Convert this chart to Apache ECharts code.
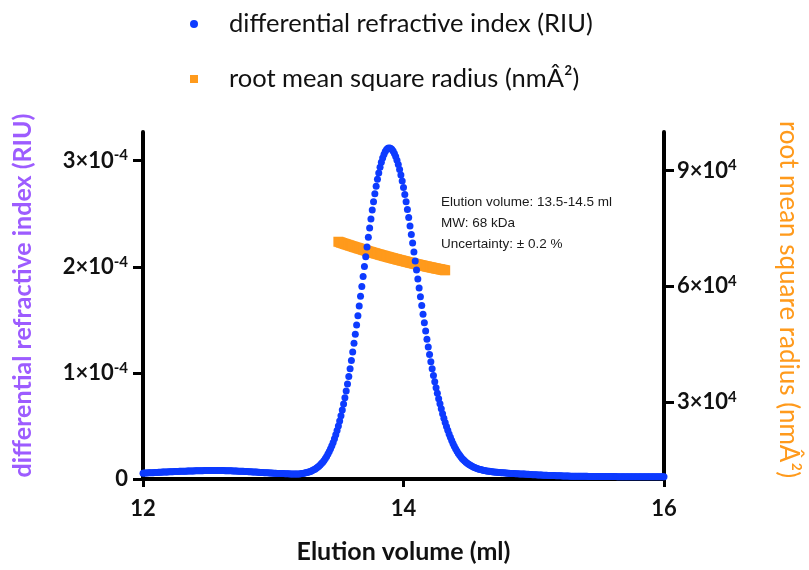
<!DOCTYPE html>
<html>
<head>
<meta charset="utf-8">
<script src="https://cdn.jsdelivr.net/npm/echarts@6/dist/echarts.min.js"></script>
<style>html,body{margin:0;padding:0;background:#fff}#c{width:809px;height:570px}</style>
</head>
<body>
<div id="c"></div>
<script>
// Elution volume sampling grid (ml)
const riStart = 12.00;
const riStep = 0.01;
// differential refractive index, in micro-RIU (x1e-6), one value per 0.01 ml from 12.00 to 16.00
const riMicroRIU = [
5.5,5.6,5.6,5.7,5.8,5.8,5.9,6.0,6.0,6.1,
6.2,6.2,6.3,6.4,6.4,6.5,6.5,6.6,6.7,6.7,
6.8,6.8,6.9,6.9,7.0,7.0,7.1,7.1,7.2,7.2,
7.3,7.3,7.4,7.4,7.5,7.5,7.5,7.6,7.6,7.6,
7.7,7.7,7.7,7.8,7.8,7.8,7.8,7.9,7.9,7.9,
7.9,7.9,7.9,7.9,8.0,8.0,8.0,8.0,7.9,7.9,
7.9,7.9,7.9,7.8,7.8,7.8,7.7,7.7,7.7,7.6,
7.6,7.5,7.5,7.4,7.4,7.3,7.3,7.2,7.1,7.1,
7.0,6.9,6.9,6.8,6.7,6.6,6.6,6.5,6.4,6.3,
6.2,6.2,6.1,6.0,5.9,5.9,5.8,5.7,5.7,5.6,
5.5,5.5,5.4,5.3,5.3,5.2,5.2,5.1,5.1,5.0,
4.9,4.9,4.9,4.8,4.8,4.8,4.8,4.7,4.7,4.7,
4.7,4.9,5.1,5.3,5.6,5.8,6.2,6.5,6.9,7.4,
8.0,8.6,9.3,10.1,11.0,12.0,13.2,14.5,15.9,17.5,
19.3,21.3,23.5,25.9,28.5,31.4,34.5,38.0,41.7,45.7,
50.0,54.7,59.6,65.0,70.6,76.6,83.0,89.6,96.7,104,
111.7,119.6,127.9,136.3,145.1,153.9,163,172.2,181.5,190.8,
200.2,209.4,218.7,227.7,236.5,245.1,253.4,261.3,268.8,275.8,
282.4,288.3,293.8,298.4,302.6,305.9,308.6,310.5,311.6,312,
311.7,310.7,309.1,306.8,303.9,300.4,296.3,291.7,286.5,280.8,
274.7,268.2,261.2,254.0,246.4,238.5,230.5,222.3,214.0,205.5,
197.0,188.5,180.1,171.7,163.4,155.2,147.2,139.4,131.8,124.5,
117.4,110.5,103.9,97.6,91.7,86.1,80.8,75.7,70.8,66.1,
61.6,57.3,53.3,49.5,45.9,42.5,39.3,36.3,33.5,30.9,
28.5,26.3,24.3,22.5,20.9,19.4,18.1,16.9,15.8,14.8,
13.9,13.1,12.4,11.7,11.1,10.6,10.1,9.7,9.3,8.9,
8.6,8.3,8.0,7.8,7.6,7.4,7.2,7.0,6.8,6.7,
6.5,6.4,6.3,6.2,6.1,6.0,5.9,5.8,5.7,5.6,
5.5,5.4,5.3,5.3,5.2,5.1,5.0,5.0,4.9,4.8,
4.7,4.7,4.6,4.6,4.5,4.4,4.4,4.3,4.2,4.1,
4.0,3.9,3.9,3.8,3.8,3.7,3.7,3.6,3.6,3.5,
3.5,3.4,3.4,3.3,3.3,3.2,3.2,3.1,3.1,3.0,
3.0,3.0,2.9,2.9,2.9,2.8,2.8,2.8,2.7,2.7,
2.7,2.7,2.6,2.6,2.6,2.6,2.5,2.5,2.5,2.5,
2.5,2.5,2.4,2.4,2.4,2.4,2.4,2.4,2.4,2.4,
2.3,2.3,2.3,2.3,2.3,2.3,2.3,2.3,2.3,2.3,
2.3,2.3,2.3,2.3,2.2,2.2,2.2,2.2,2.2,2.2,
2.2,2.2,2.2,2.2,2.2,2.2,2.2,2.2,2.2,2.2,
2.1,2.1,2.1,2.1,2.1,2.1,2.1,2.1,2.1,2.1,
2.1,2.1,2.1,2.1,2.1,2.1,2.1,2.1,2.1,2.1,2.1
];
// root mean square radius, in units of 1e4, one value per 0.01 ml from 13.50 to 14.32
const rmsStart = 13.50;
const rmsStep = 0.01;
const rmsE4 = [
7.154,7.143,7.131,7.120,7.108,7.097,7.086,7.075,7.064,7.053,
7.042,7.031,7.020,7.010,6.999,6.988,6.978,6.967,6.957,6.946,
6.936,6.926,6.916,6.905,6.895,6.885,6.875,6.865,6.856,6.846,
6.836,6.826,6.817,6.807,6.798,6.788,6.779,6.770,6.760,6.751,
6.742,6.733,6.724,6.715,6.706,6.697,6.688,6.680,6.671,6.663,
6.654,6.646,6.637,6.629,6.620,6.612,6.604,6.596,6.588,6.580,
6.572,6.564,6.556,6.549,6.541,6.533,6.526,6.518,6.511,6.503,
6.496,6.489,6.482,6.474,6.467,6.460,6.453,6.446,6.440,6.433,
6.426,6.419,6.413
];
// axes
const xTicks = [12, 14, 16];
const leftTickMantissa = [0, 1, 2, 3];      // x 1e-4
const rightTickMantissa = [3, 6, 9];        // x 1e4
const leftRange = [0, 3.27e-4];
const rightRange = [1e4, 1e5];
const seriesNames = ['differential refractive index (RIU)', 'root mean square radius (nmÂ²)'];
const xName = 'Elution volume (ml)';
const noteLines = ['Elution volume: 13.5-14.5 ml', 'MW: 68 kDa', 'Uncertainty: ± 0.2 %'];

const riData = riMicroRIU.map((v, i) => [+(riStart + i * riStep).toFixed(2), v * 1e-6]);
const rmsData = rmsE4.map((v, i) => [+(rmsStart + i * rmsStep).toFixed(2), v * 1e4]);

const BLUE = '#0d3bff', ORANGE = '#ff9a1c', PURPLE = '#9d5cff';
const labelFont = 'Lato';
const richNum = {
  n: {fontFamily: labelFont, fontWeight: 'bold', fontSize: 22, color: '#111'},
  s: {fontFamily: labelFont, fontWeight: 'bold', fontSize: 15, color: '#111', verticalAlign: 'bottom', padding: [0, 0, 10, 0]}
};

const chart = echarts.init(document.getElementById('c'), null, {renderer: 'canvas'});
chart.setOption({
  animation: false,
  backgroundColor: '#fff',
  legend: {
    orient: 'vertical', left: 185, top: 5,
    itemWidth: 8, itemHeight: 8, itemGap: 27,
    data: [{name: seriesNames[0], icon: 'circle'}, {name: seriesNames[1], icon: 'rect'}],
    textStyle: {fontFamily: labelFont, fontSize: 25.5, color: '#111', lineHeight: 28, padding: [0, 0, 0, 26]}
  },
  grid: {left: 143, right: 144, top: 132, bottom: 91},
  xAxis: {
    type: 'value', min: 12, max: 16, interval: 2,
    name: xName, nameLocation: 'middle', nameGap: 60,
    nameTextStyle: {fontFamily: labelFont, fontWeight: 'bold', fontSize: 25, color: '#111'},
    axisLine: {lineStyle: {color: '#000', width: 4}},
    axisTick: {length: 8, lineStyle: {width: 3, color: '#000'}, customValues: xTicks},
    axisLabel: {customValues: xTicks, margin: 19, fontFamily: labelFont, fontWeight: 'bold', fontSize: 22, color: '#111'},
    splitLine: {show: false}
  },
  yAxis: [{
    type: 'value', min: leftRange[0], max: leftRange[1],
    name: seriesNames[0], nameLocation: 'middle', nameRotate: 90, nameGap: 108,
    nameTextStyle: {fontFamily: labelFont, fontWeight: 'bold', fontSize: 25, color: PURPLE, padding: [0, 0, 0, 20]},
    axisLine: {show: true, lineStyle: {color: '#000', width: 4}},
    axisTick: {show: true, length: 10, lineStyle: {width: 3, color: '#000'}, customValues: leftTickMantissa.map(m => m * 1e-4)},
    axisLabel: {
      customValues: leftTickMantissa.map(m => m * 1e-4), margin: 15,
      formatter: v => { const m = Math.round(v * 1e4); return m === 0 ? '{n|0}' : '{n|' + m + '×10}{s|-4}'; },
      rich: richNum
    },
    splitLine: {show: false}
  }, {
    type: 'value', position: 'right', min: rightRange[0], max: rightRange[1],
    name: seriesNames[1], nameLocation: 'middle', nameRotate: -90, nameGap: 111,
    nameTextStyle: {fontFamily: labelFont, fontSize: 26, color: ORANGE, padding: [0, 12, 0, 0]},
    axisLine: {show: true, lineStyle: {color: '#000', width: 4}},
    axisTick: {show: true, length: 10, lineStyle: {width: 3, color: '#000'}, customValues: rightTickMantissa.map(m => m * 1e4)},
    axisLabel: {
      customValues: rightTickMantissa.map(m => m * 1e4), margin: 13,
      formatter: v => '{n|' + Math.round(v / 1e4) + '×10}{s|4}',
      rich: richNum
    },
    splitLine: {show: false}
  }],
  series: [{
    name: seriesNames[1], type: 'scatter', yAxisIndex: 1, data: rmsData,
    symbol: 'rect', symbolSize: 10, itemStyle: {color: ORANGE, opacity: 1}, silent: true
  }, {
    name: seriesNames[0], type: 'scatter', yAxisIndex: 0, data: riData,
    symbol: 'circle', symbolSize: 7, itemStyle: {color: BLUE, opacity: 1}, silent: true
  }],
  graphic: [{
    type: 'text', left: 441, top: 192, silent: true,
    style: {text: noteLines.join('\n'), font: '13.5px "Liberation Sans", Arial, sans-serif', fill: '#1a1a1a', lineHeight: 21}
  }]
});
</script>
</body>
</html>
